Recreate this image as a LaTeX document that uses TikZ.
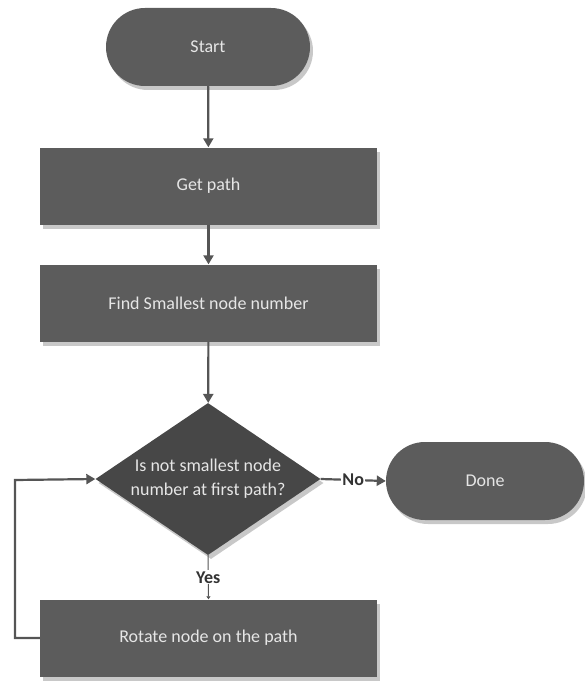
\documentclass[tikz,border=0pt]{standalone}
\usepackage{fontspec}
\setmainfont{Carlito}
\usetikzlibrary{shapes.geometric,shapes.misc,arrows.meta,shadows}
\definecolor{boxfill}{HTML}{5C5C5C}
\definecolor{diafill}{HTML}{474747}
\definecolor{linecol}{HTML}{555555}
\definecolor{txtcol}{HTML}{E6E6E6}
\definecolor{shadowcol}{HTML}{C8C8C8}
\tikzset{
  base/.style={fill=boxfill, text=txtcol, font=\fontsize{18}{22}\selectfont, inner sep=0pt,
    drop shadow={shadow xshift=3pt, shadow yshift=-4pt, fill=shadowcol, opacity=1}},
  pill/.style={base, rounded rectangle, minimum width=204pt, minimum height=78pt},
  procbox/.style={base, rectangle, minimum width=337pt, minimum height=77pt},
  decision/.style={base, fill=diafill, diamond, minimum width=225pt, minimum height=152pt, aspect=1.48, align=center},
  conn/.style={draw=linecol, line width=2.2pt, -{Triangle[length=9pt,width=10pt]}},
  lbl/.style={font=\bfseries\fontsize{18}{22}\selectfont, text=black!80}
}
\begin{document}
\begin{tikzpicture}[x=1pt,y=-1pt]
\useasboundingbox (0,0) rectangle (584,682);
\node[pill] (start) at (208,47) {Start};
\node[procbox] (get) at (208.5,186) {Get path};
\node[procbox] (find) at (208.5,303) {Find Smallest node number};
\node[decision] (dec) at (208,479) {Is not smallest node\\[2pt]number at first path?};
\node[pill, minimum width=198pt] (done) at (485,481) {Done};
\node[procbox] (rot) at (208.5,638) {Rotate node on the path};
\coordinate (lb) at (15,638);
\coordinate (lt) at (15,480);
\draw[conn] (start) -- (get);
\draw[conn] (get) -- (find);
\draw[conn] (find) -- (dec);
\draw[conn] (dec.east) -- node[lbl, fill=white, inner sep=1pt] (no) {No} (done.west);
\draw[conn, -{Triangle[length=3pt,width=4pt]}, line width=1pt] (dec.south) -- node[lbl, fill=white, inner sep=1pt, pos=0.5] (yes) {Yes} (rot.north);
\draw[conn] (rot.west) -- (lb) -- (lt) -- (dec.west);
\end{tikzpicture}
\end{document}
